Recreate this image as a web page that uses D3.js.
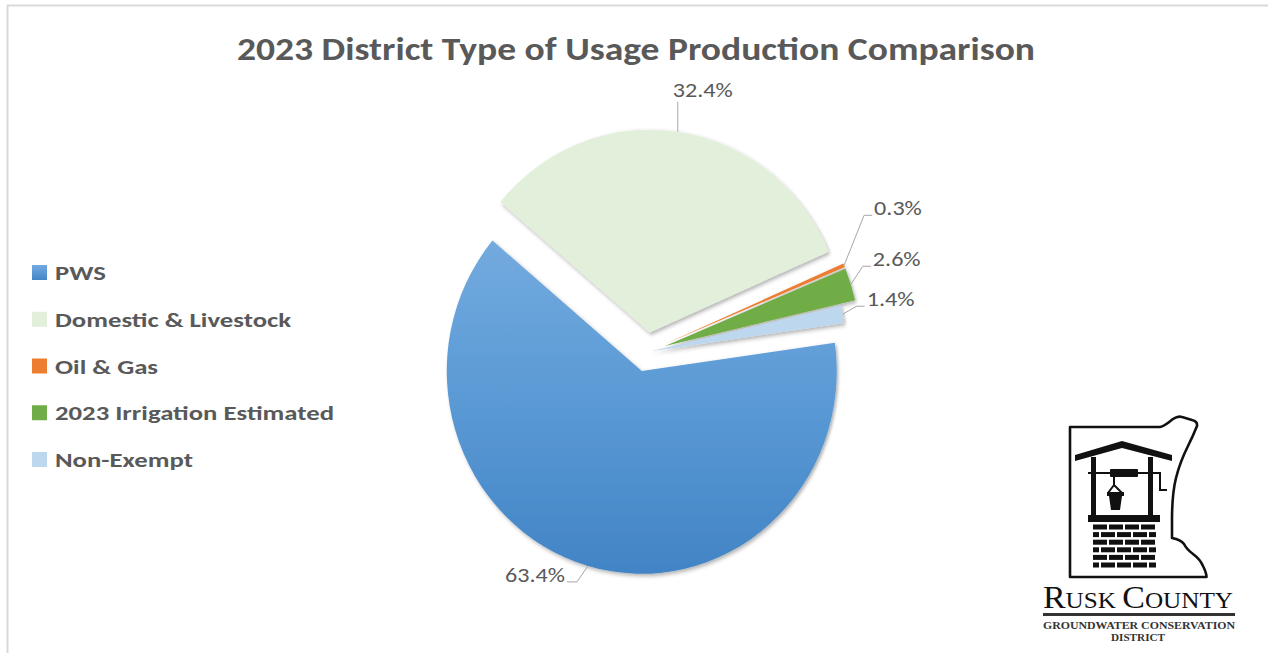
<!DOCTYPE html>
<html>
<head>
<meta charset="utf-8">
<script src="https://cdn.jsdelivr.net/npm/d3@7"></script>
<style>
  html, body { margin: 0; padding: 0; background: #fff; overflow: hidden; }
</style>
</head>
<body>
<svg id="chart" width="1268" height="653"></svg>
<script>
// ---- chart data ----
const chartTitle = "2023 District Type of Usage Production Comparison";
const categories = ["PWS", "Domestic & Livestock", "Oil & Gas", "2023 Irrigation Estimated", "Non-Exempt"];
const shares = [63.4, 32.4, 0.3, 2.6, 1.4];          // percent of district production
const colors = ["#5b9bd5", "#e2efda", "#ed7d31", "#70ad47", "#bdd7ee"];

// ---- layout ----
const W = 1268, H = 653;
const FONT = "Carlito, Lato, 'Open Sans', sans-serif";
const TEXT = "#595959";
const cx = 647, cy = 352;          // pie centre
const R = 195;                      // pie radius
const SY = 1.04;                    // slight vertical stretch of the pie
const START = 82 * Math.PI / 180;   // angle of the first slice
const explode = [19, 19, 19, 19, 4];

const svg = d3.select("#chart");
const defs = svg.append("defs");

// soft shadow under every slice
const sh = defs.append("filter").attr("id", "sliceShadow")
  .attr("x", "-10%").attr("y", "-10%").attr("width", "130%").attr("height", "130%");
sh.append("feDropShadow").attr("dx", 1.5).attr("dy", 2).attr("stdDeviation", 1.8)
  .attr("flood-color", "#000").attr("flood-opacity", 0.32);

// PWS has a light-to-dark vertical gradient
const grad = defs.append("linearGradient").attr("id", "pwsFill")
  .attr("x1", 0).attr("y1", 0).attr("x2", 0).attr("y2", 1);
grad.append("stop").attr("offset", "0%").attr("stop-color", "#73aadf");
grad.append("stop").attr("offset", "55%").attr("stop-color", "#5797d3");
grad.append("stop").attr("offset", "100%").attr("stop-color", "#4284c5");
const fillFor = i => i === 0 ? "url(#pwsFill)" : colors[i];

// chart area frame
svg.append("rect")
  .attr("x", 7.5).attr("y", 5.5).attr("width", W + 40).attr("height", H + 40)
  .attr("fill", "none").attr("stroke", "#d9d9d9").attr("stroke-width", 2);

// title
const title = svg.append("text")
  .attr("x", 636).attr("y", 60)
  .attr("text-anchor", "middle")
  .attr("font-family", FONT).attr("font-weight", "bold").attr("font-size", 32)
  .attr("fill", TEXT)
  .text(chartTitle);
title.attr("textLength", 798).attr("lengthAdjust", "spacingAndGlyphs");

// ---- pie ----
const pie = d3.pie().sort(null).value(d => d)
  .startAngle(START).endAngle(START + 2 * Math.PI);
const arcs = pie(shares);
const arcGen = d3.arc().innerRadius(0).outerRadius(R);

const mid = a => (a.startAngle + a.endAngle) / 2;
const sliceOrigin = (a, i) => {
  const m = mid(a);
  return [cx + explode[i] * Math.sin(m), cy - explode[i] * Math.cos(m) * SY];
};
const outerPoint = (a, i) => {
  const [ox, oy] = sliceOrigin(a, i);
  const m = mid(a);
  return [ox + R * Math.sin(m), oy - R * Math.cos(m) * SY];
};

const pieG = svg.append("g");
arcs.forEach((a, i) => {
  const [ox, oy] = sliceOrigin(a, i);
  pieG.append("g")
    .attr("transform", `translate(${ox},${oy}) scale(1,${SY})`)
    .append("path")
    .attr("d", arcGen(a))
    .attr("fill", fillFor(i))
    .attr("filter", "url(#sliceShadow)");
});

// ---- data labels with leader lines ----
// placement of each label relative to the point where its leader meets the arc
const labelPlacement = [
  { dx: -23, dy: 16, anchor: "end",   leader: "knee" },
  { dx: -5,  dy: -35, anchor: "start", leader: "vertical" },
  { dx: 30,  dy: -50, anchor: "start", leader: "knee" },
  { dx: 22,  dy: -18, anchor: "start", leader: "knee" },
  { dx: 24,  dy: -8,  anchor: "start", leader: "knee" }
];

const labelG = svg.append("g");
const labels = arcs.map((a, i) => {
  const p = outerPoint(a, i);
  const pl = labelPlacement[i];
  const t = labelG.append("text")
    .attr("x", p[0] + pl.dx).attr("y", p[1] + pl.dy)
    .attr("text-anchor", pl.anchor)
    .attr("font-family", FONT).attr("font-size", 20)
    .attr("fill", TEXT)
    .text(shares[i].toFixed(1) + "%");
  return { t, p, pl, x: p[0] + pl.dx, y: p[1] + pl.dy };
});
// keep the label text at the same width as the chart's own font
const refW = labels[1].t.node().getComputedTextLength();
const labelScale = 60 / refW;
labels.forEach(l => {
  const w = l.t.node().getComputedTextLength() * labelScale;
  l.t.attr("textLength", w).attr("lengthAdjust", "spacingAndGlyphs");
  l.w = w;
});

labels.forEach(l => {
  const base = l.y + 1;
  let pts;
  if (l.pl.leader === "vertical") {
    pts = [l.p, [l.p[0], base + 4]];
  } else if (l.pl.anchor === "end") {
    const edge = l.x + 2;          // leader meets the label's right side
    pts = [l.p, [edge + 10, base - 1], [edge, base - 1]];
  } else {
    const edge = l.x - 2;          // leader meets the label's left side
    pts = [l.p, [edge - 8, base - 1], [edge, base - 1]];
  }
  labelG.append("path")
    .attr("d", d3.line()(pts))
    .attr("fill", "none").attr("stroke", "#a6a6a6").attr("stroke-width", 1);
});

// ---- legend ----
const legend = svg.append("g");
const legendTexts = categories.map((c, i) => {
  const base = 280 + i * 46.75;
  legend.append("rect")
    .attr("x", 32).attr("y", base - 15).attr("width", 15).attr("height", 15)
    .attr("fill", fillFor(i));
  return legend.append("text")
    .attr("x", 55).attr("y", base)
    .attr("font-family", FONT).attr("font-weight", "bold").attr("font-size", 21)
    .attr("fill", TEXT)
    .text(c);
});
const longest = d3.max(legendTexts, t => t.node().getComputedTextLength());
const legendScale = 279 / longest;
legendTexts.forEach(t => {
  t.attr("textLength", t.node().getComputedTextLength() * legendScale)
   .attr("lengthAdjust", "spacingAndGlyphs");
});

// ---- district logo ----
const logo = svg.append("g").attr("transform", "translate(1060,410)");
const INK = "#111";

// county outline
logo.append("path")
  .attr("d", "M10,17 L100,17 C105,16 109,12 113,9 C116,7 119,6 122,7 L132,10 C136,11 137.5,13 137,16 " +
             "C135,21 132,28 128,36 C123,46 119,56 116,68 C113,80 112,95 112,110 L112,128 " +
             "C117,129 121,130 124,134 C126,138 129,141 133,144 C137,147 141,151 143,156 " +
             "C145,160 146.5,163 146.5,167 L10,167 Z")
  .attr("fill", "none").attr("stroke", INK).attr("stroke-width", 2.6).attr("stroke-linejoin", "round");

// roof
logo.append("path")
  .attr("d", "M15,45 L62,31 L112,45 L112,51 L62,38 L15,51 Z")
  .attr("fill", INK);
// posts
logo.append("rect").attr("x", 31).attr("y", 47).attr("width", 5).attr("height", 60).attr("fill", INK);
logo.append("rect").attr("x", 88).attr("y", 47).attr("width", 5).attr("height", 60).attr("fill", INK);
// axle and roller
logo.append("rect").attr("x", 28).attr("y", 62).attr("width", 72).attr("height", 2).attr("fill", INK);
logo.append("rect").attr("x", 50).attr("y", 59).attr("width", 28).attr("height", 8).attr("rx", 1).attr("fill", INK);
// crank
logo.append("path").attr("d", "M93,63 L100,63 L100,80 L107,80")
  .attr("fill", "none").attr("stroke", INK).attr("stroke-width", 2);
// rope and bucket handle
logo.append("path").attr("d", "M54,66 L54,75 M54,75 L48,83 M54,75 L62,83")
  .attr("fill", "none").attr("stroke", INK).attr("stroke-width", 2);
// bucket
logo.append("rect").attr("x", 47).attr("y", 82).attr("width", 17).attr("height", 4).attr("fill", INK);
logo.append("path").attr("d", "M49,86 L62,86 L60,100 L51,100 Z").attr("fill", INK);
// well cap
logo.append("rect").attr("x", 28).attr("y", 105).attr("width", 72).attr("height", 7).attr("fill", INK);
// brick shaft
for (let r = 0; r < 6; r++) {
  const y = 114.5 + r * 7.6;
  const shift = (r % 2) * 8;
  for (let x = 33 - shift; x < 97; x += 16) {
    const x0 = Math.max(33, x), x1 = Math.min(96, x + 14);
    if (x1 - x0 > 2) {
      logo.append("rect").attr("x", x0).attr("y", y).attr("width", x1 - x0).attr("height", 5).attr("fill", INK);
    }
  }
}

// logo wordmark
const SERIF = "'Liberation Serif', 'DejaVu Serif', serif";
const word = logo.append("text")
  .attr("x", -17).attr("y", 198)
  .attr("font-family", SERIF).attr("fill", INK);
word.append("tspan").attr("font-size", 31).text("R");
word.append("tspan").attr("font-size", 23).text("USK ");
word.append("tspan").attr("font-size", 31).text("C");
word.append("tspan").attr("font-size", 23).text("OUNTY");
word.attr("textLength", 190).attr("lengthAdjust", "spacingAndGlyphs");

logo.append("rect").attr("x", -17).attr("y", 203).attr("width", 192).attr("height", 3).attr("fill", "#333");

logo.append("text")
  .attr("x", -17).attr("y", 219)
  .attr("font-family", SERIF).attr("font-weight", "bold").attr("font-size", 11).attr("fill", "#333")
  .attr("textLength", 192).attr("lengthAdjust", "spacingAndGlyphs")
  .text("GROUNDWATER CONSERVATION");
logo.append("text")
  .attr("x", 78).attr("y", 231)
  .attr("text-anchor", "middle")
  .attr("font-family", SERIF).attr("font-weight", "bold").attr("font-size", 10).attr("fill", "#333")
  .attr("textLength", 54).attr("lengthAdjust", "spacingAndGlyphs")
  .text("DISTRICT");
</script>
</body>
</html>
